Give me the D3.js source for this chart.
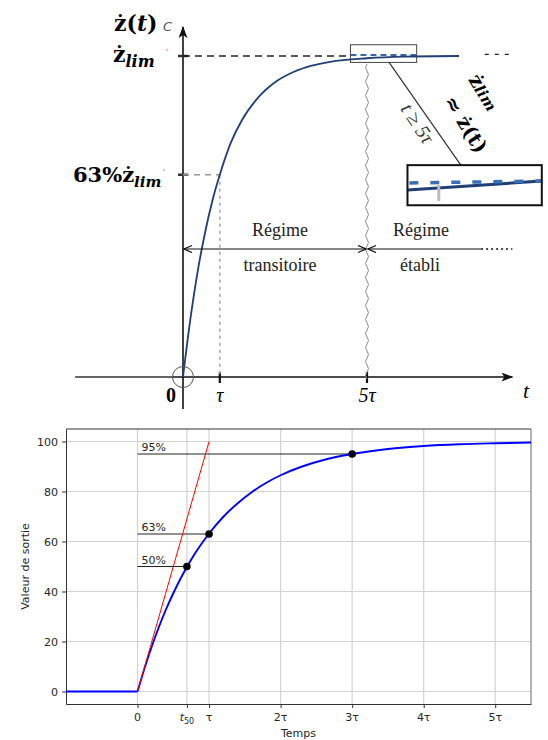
<!DOCTYPE html>
<html>
<head>
<meta charset="utf-8">
<script src="https://cdn.jsdelivr.net/npm/d3@7"></script>
<style>
  body { margin: 0; background: #fff; }
  svg { display: block; }
  .serif { font-family: "Liberation Serif", "DejaVu Serif", serif; }
  .math { font-family: "DejaVu Serif", serif; font-weight: bold; }
  .mpl { font-family: "DejaVu Sans", sans-serif; fill: #262626; }
</style>
</head>
<body>
<svg id="chart" width="548" height="740"></svg>
<script>
// --- data: top diagram (time in units of tau, response as a fraction of z_lim) ---
const topT = [0, 0.2, 0.4, 0.6, 0.8, 1, 1.3, 1.6, 2, 2.5, 3, 3.5, 4, 5, 6, 7.5];
const topV = [0, 0.18, 0.33, 0.45, 0.55, 0.63, 0.73, 0.80, 0.865, 0.918, 0.95, 0.97, 0.982, 0.993, 0.998, 1.0];
const topTicks = [1, 5];
const topTickLabels = ["τ", "5τ"];
const topLevels = [1, 0.63];

// --- data: bottom chart (time in units of tau, output in %) ---
const stepT = [-1, 0, 0.1, 0.2, 0.3, 0.4, 0.5, 0.6, 0.7, 0.8, 0.9, 1, 1.2, 1.4, 1.6, 1.8, 2, 2.3, 2.6, 3, 3.5, 4, 4.5, 5, 5.5];
const stepV = [0, 0, 9.5, 18.1, 25.9, 33.0, 39.3, 45.1, 50.3, 55.1, 59.3, 63.2, 69.9, 75.3, 79.8, 83.5, 86.5, 90.0, 92.6, 95.0, 97.0, 98.2, 98.9, 99.3, 99.6];
const tangentT = [0, 1];
const tangentV = [0, 100];
const markT = [0.69, 1, 3];
const markV = [50, 63, 95];
const markLabels = ["50%", "63%", "95%"];
const xTicks = [0, 0.69, 1, 2, 3, 4, 5];
const xTickLabels = ["0", "t50", "τ", "2τ", "3τ", "4τ", "5τ"];
const yTicks = [0, 20, 40, 60, 80, 100];

const svg = d3.select("#chart");
const defs = svg.append("defs");
defs.append("marker").attr("id", "axisArrow")
  .attr("markerUnits", "userSpaceOnUse").attr("markerWidth", 14).attr("markerHeight", 10)
  .attr("refX", 11).attr("refY", 4.5).attr("orient", "auto")
  .append("path").attr("d", "M0,0 L12,4.5 L0,9 L3,4.5 Z").attr("fill", "#111");
defs.append("marker").attr("id", "openArrow")
  .attr("markerUnits", "userSpaceOnUse").attr("markerWidth", 12).attr("markerHeight", 10)
  .attr("refX", 9).attr("refY", 4).attr("orient", "auto-start-reverse")
  .append("path").attr("d", "M1,0.5 L9,4 L1,7.5").attr("fill", "none").attr("stroke", "#111").attr("stroke-width", 1.3);

// ================= 1. Top diagram (textbook figure) =================
const xT = d3.scaleLinear().domain([0, 5]).range([183, 367]);
const yT = d3.scaleLinear().domain([0, 1]).range([377, 56]);
const fig = svg.append("g");

// axes
fig.append("line").attr("x1", xT(-2.93)).attr("x2", xT(-0.3)).attr("y1", yT(0)).attr("y2", yT(0))
  .attr("stroke", "#333").attr("stroke-width", 1.3);
fig.append("line").attr("x1", xT(-0.3)).attr("x2", xT(8.95)).attr("y1", yT(0)).attr("y2", yT(0))
  .attr("stroke", "#111").attr("stroke-width", 1.7).attr("marker-end", "url(#axisArrow)");
fig.append("line").attr("x1", xT(0)).attr("x2", xT(0)).attr("y1", yT(-0.1)).attr("y2", yT(1.09))
  .attr("stroke", "#111").attr("stroke-width", 1.6).attr("marker-end", "url(#axisArrow)");

// ticks on time axis
fig.selectAll(".ttick").data(topTicks).enter().append("line")
  .attr("x1", d => xT(d)).attr("x2", d => xT(d)).attr("y1", yT(0) - 5).attr("y2", yT(0) + 6)
  .attr("stroke", "#111").attr("stroke-width", 2.2);
fig.selectAll(".tlab").data(topTicks).enter().append("text")
  .attr("class", "serif").attr("x", d => xT(d)).attr("y", 402)
  .attr("text-anchor", "middle").attr("font-size", 20).attr("font-style", "italic")
  .text((d, i) => topTickLabels[i]);
fig.append("text").attr("class", "serif").attr("x", 171).attr("y", 402)
  .attr("text-anchor", "middle").attr("font-size", 20).attr("font-weight", "bold").text("0");
fig.append("text").attr("class", "serif").attr("x", 526).attr("y", 398)
  .attr("text-anchor", "middle").attr("font-size", 22).attr("font-style", "italic").text("t");

// small ticks on the value axis
fig.selectAll(".vtick").data(topLevels).enter().append("line")
  .attr("x1", xT(0) - 5).attr("x2", xT(0) + 5).attr("y1", d => yT(d)).attr("y2", d => yT(d))
  .attr("stroke", "#333").attr("stroke-width", 2.5);

// dashed level lines
fig.append("line").attr("x1", xT(0)).attr("x2", xT(4.55)).attr("y1", yT(1)).attr("y2", yT(1))
  .attr("stroke", "#222").attr("stroke-width", 1.3).attr("stroke-dasharray", "7,5");
fig.append("line").attr("x1", xT(4.55)).attr("x2", xT(6.35)).attr("y1", yT(1) - 1).attr("y2", yT(1) - 1)
  .attr("stroke", "#3b66a8").attr("stroke-width", 2).attr("stroke-dasharray", "6,4");
fig.append("line").attr("x1", xT(8.2)).attr("x2", xT(8.95)).attr("y1", yT(1.005)).attr("y2", yT(1.005))
  .attr("stroke", "#222").attr("stroke-width", 1.3).attr("stroke-dasharray", "4,6");
fig.append("line").attr("x1", xT(0)).attr("x2", xT(1)).attr("y1", yT(0.63)).attr("y2", yT(0.63))
  .attr("stroke", "#999").attr("stroke-width", 1.3).attr("stroke-dasharray", "6,5");
fig.append("line").attr("x1", xT(1)).attr("x2", xT(1)).attr("y1", yT(0.63)).attr("y2", yT(0))
  .attr("stroke", "#aaa").attr("stroke-width", 1.6).attr("stroke-dasharray", "3,4");

// response curve
const topData = topT.map((t, i) => ({t: t, v: topV[i]}));
fig.append("path").datum(topData)
  .attr("fill", "none").attr("stroke", "#1f3f75").attr("stroke-width", 1.8)
  .attr("d", d3.line().x(d => xT(d.t)).y(d => yT(d.v)).curve(d3.curveMonotoneX));

// circle around origin
fig.append("circle").attr("cx", xT(0)).attr("cy", yT(0)).attr("r", 10.5)
  .attr("fill", "none").attr("stroke", "#555").attr("stroke-width", 1);

// wavy separator at 5 tau
let wave = `M${xT(5)},${yT(1) + 8}`;
for (let yy = yT(1) + 8, k = 0; yy < yT(0); yy += 7, k++) {
  wave += ` q${k % 2 ? 3 : -3},3.5 0,7`;
}
fig.append("path").attr("d", wave).attr("fill", "none").attr("stroke", "#8a8a8a").attr("stroke-width", 1);

// regime arrows
const yReg = 249;
fig.append("line").attr("x1", xT(0) + 1).attr("x2", xT(5) - 1).attr("y1", yReg).attr("y2", yReg)
  .attr("stroke", "#111").attr("stroke-width", 1.2)
  .attr("marker-start", "url(#openArrow)").attr("marker-end", "url(#openArrow)");
fig.append("line").attr("x1", xT(5) + 1).attr("x2", xT(8.1)).attr("y1", yReg).attr("y2", yReg)
  .attr("stroke", "#111").attr("stroke-width", 1.2).attr("marker-start", "url(#openArrow)");
fig.append("line").attr("x1", xT(8.1)).attr("x2", xT(8.95)).attr("y1", yReg).attr("y2", yReg)
  .attr("stroke", "#111").attr("stroke-width", 1.4).attr("stroke-dasharray", "2,3");
[["Régime", 280, 236], ["transitoire", 280, 271], ["Régime", 421, 236], ["établi", 420, 271]]
  .forEach(([s, tx, ty]) => fig.append("text").attr("class", "serif").attr("x", tx).attr("y", ty)
    .attr("text-anchor", "middle").attr("font-size", 18).attr("fill", "#222").text(s));

// zoom box and callout
fig.append("rect").attr("x", xT(4.55)).attr("y", yT(1.035)).attr("width", xT(6.35) - xT(4.55))
  .attr("height", yT(0.98) - yT(1.035)).attr("fill", "none").attr("stroke", "#444").attr("stroke-width", 1);
fig.append("line").attr("x1", xT(5.6)).attr("y1", yT(0.98)).attr("x2", xT(7.55)).attr("y2", yT(0.66))
  .attr("stroke", "#333").attr("stroke-width", 1.2);
const inset = fig.append("g");
inset.append("line").attr("x1", xT(6.1)).attr("x2", xT(9.75)).attr("y1", 190).attr("y2", 181)
  .attr("stroke", "#1f3f75").attr("stroke-width", 3);
inset.append("line").attr("x1", xT(6.15)).attr("x2", xT(9.75)).attr("y1", 183).attr("y2", 181)
  .attr("stroke", "#3b6fb5").attr("stroke-width", 3.5).attr("stroke-dasharray", "9,12");
inset.append("line").attr("x1", xT(6.95)).attr("x2", xT(6.95)).attr("y1", 185).attr("y2", 201)
  .attr("stroke", "#bbb").attr("stroke-width", 3);
inset.append("rect").attr("x", xT(6.1)).attr("y", yT(0.66)).attr("width", xT(9.75) - xT(6.1))
  .attr("height", yT(0.535) - yT(0.66)).attr("fill", "none").attr("stroke", "#111").attr("stroke-width", 2);

fig.append("text").attr("class", "serif").attr("transform", "translate(412,127) rotate(57)")
  .attr("text-anchor", "middle").attr("font-size", 20).attr("font-style", "italic").attr("fill", "#333")
  .text("t ≥ 5τ");
const eq1 = fig.append("text").attr("class", "math").attr("transform", "translate(478,96) rotate(58)")
  .attr("text-anchor", "middle").attr("font-size", 20);
eq1.append("tspan").text("ż");
eq1.append("tspan").attr("font-size", 15).attr("font-style", "italic").text("lim");
fig.append("text").attr("class", "math").attr("transform", "translate(460,128) rotate(58)")
  .attr("text-anchor", "middle").attr("font-size", 20).text("≈ ż(t)");

// value-axis labels
const lz = fig.append("text").attr("class", "math").attr("x", 114).attr("y", 31).attr("font-size", 22);
lz.append("tspan").text("ż(");
lz.append("tspan").attr("font-style", "italic").text("t");
lz.append("tspan").text(")");
fig.append("text").attr("x", 163).attr("y", 31).attr("font-family", "DejaVu Sans, sans-serif")
  .attr("font-style", "italic").attr("font-size", 13).attr("fill", "#555").text("C");
const lzl = fig.append("text").attr("class", "math").attr("x", 113).attr("y", 62).attr("font-size", 22);
lzl.append("tspan").text("ż");
lzl.append("tspan").attr("dy", 5).attr("font-size", 16).attr("font-style", "italic").text("lim");
fig.append("text").attr("x", 166).attr("y", 56).attr("font-size", 10).attr("fill", "#777").text("'");
const l63 = fig.append("text").attr("class", "math").attr("x", 73).attr("y", 182).attr("font-size", 21);
l63.append("tspan").text("63%ż");
l63.append("tspan").attr("dy", 5).attr("font-size", 15).attr("font-style", "italic").text("lim");
fig.append("text").attr("x", 163).attr("y", 176).attr("font-size", 10).attr("fill", "#777").text("'");

// ================= 2. Bottom chart (step response) =================
const x = d3.scaleLinear().domain([-1, 5.5]).range([66, 531]);
const y = d3.scaleLinear().domain([-5, 105]).range([704, 429]);
const g = svg.append("g");

// grid
g.selectAll(".vgrid").data(xTicks).enter().append("line")
  .attr("x1", d => x(d)).attr("x2", d => x(d)).attr("y1", y(105)).attr("y2", y(-5))
  .attr("stroke", "#d3d3d3").attr("stroke-width", 1.2);
g.selectAll(".hgrid").data(yTicks).enter().append("line")
  .attr("x1", x(-1)).attr("x2", x(5.5)).attr("y1", d => y(d)).attr("y2", d => y(d))
  .attr("stroke", "#d3d3d3").attr("stroke-width", 1.2);

// axes
g.append("g").attr("transform", `translate(0,${y(-5)})`)
  .call(d3.axisBottom(x).tickValues(xTicks).tickSize(4).tickSizeOuter(0).tickFormat(""))
  .call(a => a.select(".domain").attr("stroke", "#333"))
  .call(a => a.selectAll(".tick line").attr("stroke", "#333"));
g.append("g").attr("transform", `translate(${x(-1)},0)`)
  .call(d3.axisLeft(y).tickValues(yTicks).tickSize(4).tickSizeOuter(0).tickPadding(4))
  .call(a => a.select(".domain").attr("stroke", "#333"))
  .call(a => a.selectAll(".tick line").attr("stroke", "#333"))
  .call(a => a.selectAll(".tick text").attr("class", "mpl").attr("font-size", 11));
g.append("line").attr("x1", x(-1)).attr("x2", x(5.5)).attr("y1", y(105)).attr("y2", y(105)).attr("stroke", "#333");
g.append("line").attr("x1", x(5.5)).attr("x2", x(5.5)).attr("y1", y(105)).attr("y2", y(-5)).attr("stroke", "#666");

// x tick labels (with subscript for t50)
xTicks.forEach((d, i) => {
  const t = g.append("text").attr("class", "mpl").attr("x", x(d)).attr("y", 721)
    .attr("text-anchor", "middle").attr("font-size", 11);
  if (xTickLabels[i] === "t50") {
    t.append("tspan").attr("font-style", "italic").text("t");
    t.append("tspan").attr("dy", 3).attr("font-size", 8).text("50");
  } else {
    t.text(xTickLabels[i]);
  }
});
g.append("text").attr("class", "mpl").attr("x", x(2.25)).attr("y", 737)
  .attr("text-anchor", "middle").attr("font-size", 11).text("Temps");
g.append("text").attr("class", "mpl").attr("transform", `translate(29,${y(50)}) rotate(-90)`)
  .attr("text-anchor", "middle").attr("font-size", 11).text("Valeur de sortie");

// level lines and labels
g.selectAll(".lvl").data(markT).enter().append("line")
  .attr("x1", x(0)).attr("x2", d => x(d)).attr("y1", (d, i) => y(markV[i])).attr("y2", (d, i) => y(markV[i]))
  .attr("stroke", "#222").attr("stroke-width", 1);
g.selectAll(".lvlt").data(markV).enter().append("text").attr("class", "mpl")
  .attr("x", x(0) + 4).attr("y", d => y(d) - 3).attr("font-size", 11)
  .text((d, i) => markLabels[i]);

// response curve
const stepData = stepT.map((t, i) => ({t: t, v: stepV[i]}));
const line = d3.line().x(d => x(d.t)).y(d => y(d.v));
g.append("path").datum(stepData.filter(d => d.t <= 0))
  .attr("fill", "none").attr("stroke", "#0000ff").attr("stroke-width", 1.9).attr("d", line);
g.append("path").datum(stepData.filter(d => d.t >= 0))
  .attr("fill", "none").attr("stroke", "#0000ff").attr("stroke-width", 1.9)
  .attr("d", line.curve(d3.curveMonotoneX));

// tangent at origin
g.append("path").datum(tangentT.map((t, i) => ({t: t, v: tangentV[i]})))
  .attr("fill", "none").attr("stroke", "#ff0000").attr("stroke-width", 1)
  .attr("d", d3.line().x(d => x(d.t)).y(d => y(d.v)));

// marked points
g.selectAll(".pt").data(markT).enter().append("circle")
  .attr("cx", d => x(d)).attr("cy", (d, i) => y(markV[i])).attr("r", 3.8).attr("fill", "#000");
</script>
</body>
</html>
